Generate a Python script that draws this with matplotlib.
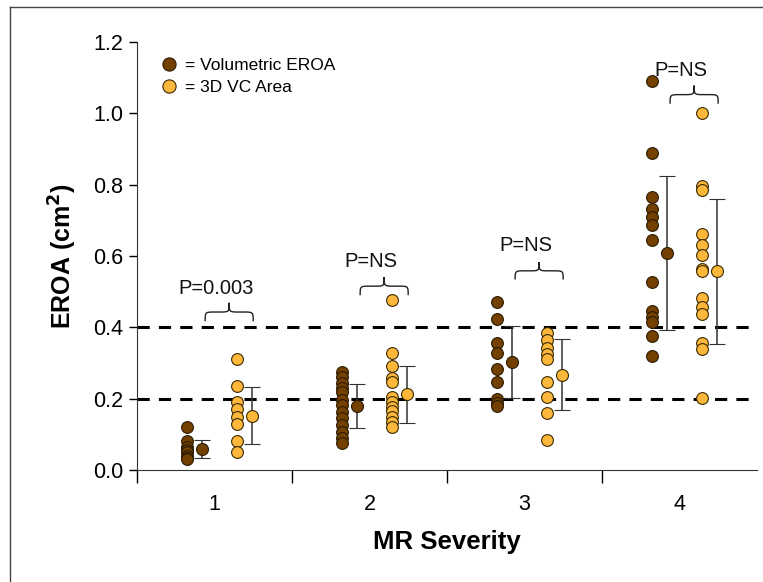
import numpy as np
import matplotlib.pyplot as plt
from matplotlib.lines import Line2D
from matplotlib.path import Path
from matplotlib.patches import PathPatch

plt.rcParams['font.family'] = ['Liberation Sans', 'DejaVu Sans']

severity = [1, 2, 3, 4]

vol_eroa = [
    [0.12, 0.08, 0.065, 0.055, 0.05, 0.04, 0.035, 0.03],
    [0.275, 0.261, 0.245, 0.229, 0.219, 0.196, 0.182, 0.163, 0.145, 0.126, 0.107, 0.089, 0.075],
    [0.471, 0.424, 0.357, 0.327, 0.282, 0.246, 0.20, 0.189, 0.179],
    [1.09, 0.889, 0.766, 0.731, 0.71, 0.688, 0.646, 0.527, 0.446, 0.429, 0.415, 0.375, 0.32],
]
vc_area = [
    [0.31, 0.235, 0.19, 0.17, 0.15, 0.13, 0.08, 0.05],
    [0.478, 0.327, 0.291, 0.257, 0.247, 0.205, 0.191, 0.177, 0.166, 0.149, 0.135, 0.121],
    [0.383, 0.364, 0.341, 0.325, 0.31, 0.247, 0.204, 0.159, 0.084],
    [1.0, 0.796, 0.786, 0.663, 0.63, 0.604, 0.565, 0.557, 0.481, 0.457, 0.437, 0.355, 0.339, 0.203],
]

vol_mean = [0.059, 0.179, 0.303, 0.609]
vol_sd = [0.024, 0.061, 0.100, 0.216]
vc_mean = [0.152, 0.213, 0.267, 0.557]
vc_sd = [0.080, 0.080, 0.100, 0.204]

p_labels = ['P=0.003', 'P=NS', 'P=NS', 'P=NS']
p_text_y = [0.51, 0.585, 0.63, 1.12]
brace_bottom = [0.417, 0.49, 0.534, 1.027]
brace_top = [0.469, 0.541, 0.583, 1.078]

dark = '#734000'
light = '#FDB73A'


def draw_brace(ax, x0, x1, yb, yt):
    xc = (x0 + x1) / 2
    ym = (yb + yt) / 2
    q = (x1 - x0) * 0.2
    verts = [(x0, yb), (x0, ym), (x0, ym), (x0 + q, ym),
             (xc - q, ym), (xc, ym), (xc, ym), (xc, yt),
             (xc, ym), (xc, ym), (xc + q, ym),
             (x1 - q, ym), (x1, ym), (x1, ym), (x1, yb)]
    codes = [Path.MOVETO, Path.CURVE4, Path.CURVE4, Path.CURVE4,
             Path.LINETO, Path.CURVE4, Path.CURVE4, Path.CURVE4,
             Path.CURVE4, Path.CURVE4, Path.CURVE4,
             Path.LINETO, Path.CURVE4, Path.CURVE4, Path.CURVE4]
    ax.add_patch(PathPatch(Path(verts, codes), facecolor='none',
                           edgecolor='#222222', lw=1.0))


fig = plt.figure(figsize=(7.63, 5.82), dpi=100)
ax = fig.add_axes([0.1795, 0.1924, 0.8125, 0.7354])

for i, s in enumerate(severity):
    ax.scatter([s - 0.18] * len(vol_eroa[i]), vol_eroa[i], s=72, color=dark,
               edgecolors='#2a1a00', linewidths=0.8, zorder=3)
    ax.scatter([s + 0.145] * len(vc_area[i]), vc_area[i], s=72, color=light,
               edgecolors='#3a2a00', linewidths=0.8, zorder=3)
    ax.errorbar(s - 0.08, vol_mean[i], yerr=vol_sd[i], fmt='o', ms=8.6,
                mfc=dark, mec='#2a1a00', mew=0.8, ecolor='#333333',
                elinewidth=1.1, capsize=6, capthick=1.1, zorder=4)
    ax.errorbar(s + 0.245, vc_mean[i], yerr=vc_sd[i], fmt='o', ms=8.6,
                mfc=light, mec='#3a2a00', mew=0.8, ecolor='#333333',
                elinewidth=1.1, capsize=6, capthick=1.1, zorder=4)
    ax.text(s + 0.01, p_text_y[i], p_labels[i], ha='center', va='center',
            fontsize=14.5, color='#111111')
    draw_brace(ax, s - 0.06, s + 0.25, brace_bottom[i], brace_top[i])

for yv in [0.2, 0.4]:
    ax.axhline(yv, color='black', lw=2.2, ls=(0, (4, 3)), zorder=2)

ax.set_xlim(0.5, 4.5)
ax.set_ylim(0, 1.2)
ax.set_yticks(np.arange(0, 1.21, 0.2))
ax.set_yticklabels(['%.1f' % v for v in np.arange(0, 1.21, 0.2)])
ax.set_xticks(severity)
ax.set_xticks([0.5, 1.5, 2.5, 3.5], minor=True)
ax.tick_params(axis='x', which='major', length=0, pad=17, labelsize=15.5)
ax.tick_params(axis='x', which='minor', length=9, width=1.0, direction='out')
ax.tick_params(axis='y', length=6, width=1.0, labelsize=15.5, pad=4)
ax.spines['top'].set_visible(False)
ax.spines['right'].set_visible(False)
ax.spines['left'].set_color('#333333')
ax.spines['bottom'].set_color('#333333')
ax.set_xlabel('MR Severity', fontsize=18.5, fontweight='bold', labelpad=11)
ax.set_ylabel('EROA (cm$^\\mathbf{2}$)', fontsize=18, fontweight='bold', labelpad=10)

handles = [Line2D([], [], marker='o', ls='none', ms=9.5, mfc=dark, mec='#2a1a00', mew=0.8),
           Line2D([], [], marker='o', ls='none', ms=9.5, mfc=light, mec='#3a2a00', mew=0.8)]
ax.legend(handles=handles, labels=['= Volumetric EROA', '= 3D VC Area'],
          loc='upper left', bbox_to_anchor=(0.01, 1.0), frameon=False,
          fontsize=12.5, handletextpad=0.3, handlelength=1.2, labelspacing=0.4)

fig.add_artist(Line2D([0.013, 0.013], [0, 0.988], color='#444444', lw=1.0))
fig.add_artist(Line2D([0.013, 1.0], [0.988, 0.988], color='#444444', lw=1.0))

fig.savefig('out.png', dpi=100)
